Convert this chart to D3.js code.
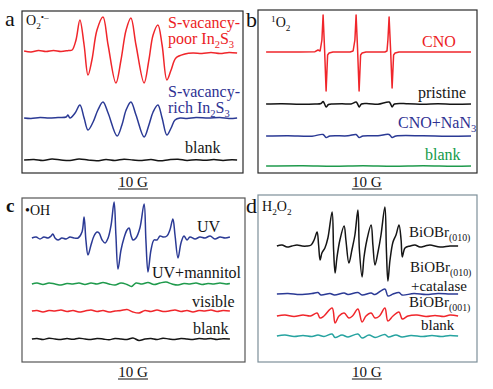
<!DOCTYPE html>
<html>
<head>
<meta charset="utf-8">
<script src="https://cdn.jsdelivr.net/npm/d3@7"></script>
<style>
  body { margin: 0; background: #fff; }
  svg { display: block; }
  text { font-family: "Liberation Serif", "Times New Roman", serif; }
</style>
</head>
<body>
<div id="chart"></div>
<script>
// spectra: [field (G), intensity (a.u.)]
// panel a, O2.- trapping
const aPoor = [[0.7,0],[3,-1],[5.5,0.5],[8,-0.5],[10.5,0.5],[13,-0.5],[15.5,0.5],[16.7,1],[18,11],[19.3,31],[20.7,6],
  [22,-24],[23.3,-9],[25,21],[27,34],[28.7,6],[31.3,-32],[33,-9],[34.7,21],[36.3,33],[38,6],[40.7,-32],[42.3,-9],
  [43.7,16],[45.3,26],[46.7,6],[48.3,-29],[49.7,-19],[51.3,-7],[54.3,-3],[57,-2],[60,-2.5],[63,-1.5],[66,-2.5],[69,-1.5],[71.7,-2]];
const aRich = [[0.7,0],[3,-0.5],[6,0.5],[9,0],[12,0.5],[14.7,1],[15.3,3],[16,0],[17.7,5],[19.3,13],[20.7,0],[22,-12],
  [23.7,-4],[25.3,8],[27,16],[28.7,5],[31.7,-18],[33.3,-7],[34.7,8],[36.3,16],[38,3],[40.7,-19],[42.3,-7],[43.7,6],
  [45.3,13],[46.7,0],[48.3,-17],[49.7,-10],[51,-2],[52.7,0],[55,-0.5],[58,0.5],[62,0],[66,0.5],[69,-0.5],[71.7,0]];
const aBlank = [[0.7,0],[4,0.5],[7,-0.5],[10,1],[13,0],[16,-0.5],[19,1],[22,0],[25,-0.8],[28,0.5],[31,-0.5],[34,0.8],
  [37,0],[40,-0.5],[43,0.5],[46,-0.8],[49,0.3],[52,0.8],[55,-0.5],[58,0.3],[61,-0.3],[64,0.5],[67,-0.5],[70,0.3],[71.7,0]];

// panel b, 1O2 trapping
const bCno = [[2.7,0],[14,0],[19,0.3],[20,2],[20.7,1],[21.3,12],[21.7,37],[22.2,2],[22.7,-39],[23.2,-3],[23.7,-1],[25,0],
  [30.7,0],[31.7,1],[32.3,12],[32.7,37],[33.2,2],[33.7,-39],[34.2,-3],[34.7,-1],[36,0],
  [42.3,0],[43,1],[43.3,12],[43.7,35],[44.2,2],[44.7,-36],[45.2,-3],[45.7,-1],[47,0],[60,0],[71,0]];
const bPristine = [[2.7,0],[8,0.3],[14,-0.3],[19,0],[21,0.5],[21.7,2.5],[22.2,0],[22.7,-3],[23.5,-0.5],[25,0],[28,0.3],
  [31,0],[32.7,2],[33.2,0],[33.7,-3],[34.5,0],[37,0.3],[40,-0.2],[43.7,2],[44.2,0],[44.7,-3],[45.5,0],[50,0.3],
  [55,-0.2],[60,0.3],[65,-0.2],[71,0]];
const bNaN3 = [[2.7,0],[10,0.3],[18,-0.2],[21.7,1.5],[22.7,-1.5],[24,0],[30,0.2],[32.7,1.5],[33.7,-1.5],[35,0],[40,0.2],
  [43.7,1.5],[44.7,-1.5],[46,0],[55,0.2],[63,-0.2],[71,0]];
const bBlank = [[2.7,0],[15,0.3],[25,-0.2],[35,0.3],[45,-0.2],[55,0.3],[65,-0.2],[71,0]];

// panel c, .OH trapping
const cUv = [[3.3,0],[4.7,1],[6,-1],[7.3,1],[8.7,0],[9.7,2],[10.3,4],[11,0],[12,-2],[13.3,0],[14.7,-1],[16,1],[17.3,0],
  [18.7,0],[20,6],[20.7,21],[21.3,-2],[22,-17],[23,-7],[24,2],[25,6],[25.7,5],[26.7,-2],[27.7,-5],[28.7,0],[29.7,13],
  [30.7,36],[31.3,3],[32,-31],[33,-12],[34,0],[35,8],[35.7,10],[36.3,3],[37,-2],[38,0],[39.3,10],[40.7,34],[41.3,-2],
  [42,-34],[43,-12],[44,-2],[45,-2],[46,2],[47,1],[48.3,2],[49.3,8],[50.3,19],[51,3],[52,-20],[53,-5],[54,2],[55,-2],
  [56,1],[57.7,-1],[59.3,1],[61,0],[62.7,2],[64.3,-1],[66,1],[67.7,0],[69.3,1]];
const cMannitol = [[3.3,0],[5,1],[7,-0.5],[9,1],[11,0],[13,-1],[15,0.5],[17,0],[19,1],[21,-0.5],[23,1],[25,0],[27,1.5],
  [29,0],[31,-1],[33,1],[35,-0.5],[36.5,-2.5],[38,1],[40,0],[42,1.5],[44,-0.5],[46,1],[48,2],[50,0],[52,-1],[54,0.5],
  [56,0],[58,1],[60,-0.5],[62,0.5],[64,0],[66,1],[68,0],[69.3,0.5]];
const cVisible = [[3.3,0],[5,0.5],[7,-1],[9,0.5],[11,0],[13,1],[15,-0.5],[17,0.5],[19,-1],[21,0],[23,1],[25,-0.5],
  [27,0.5],[29,-1],[31,0],[33,0.5],[35,1.5],[37,-1],[39,-2],[41,0.5],[43,-0.5],[45,1],[47,-0.5],[49,0],[51,1],
  [53,-0.5],[55,0.5],[57,-1],[59,0.5],[61,0],[63,1],[65,-0.5],[67,0.5],[69.3,0]];
const cBlank = [[3.3,0],[5,0.5],[7,-0.5],[9,0.8],[11,0],[13,-0.5],[15,0.5],[17,-0.3],[19,0.8],[21,0],[23,-0.5],[25,0.5],
  [27,0],[29,-0.8],[31,0.5],[33,0],[35,-0.5],[37,1],[39,-1.5],[41,0],[43,0.5],[45,-0.5],[47,0.8],[49,0],[51,-0.5],
  [53,0.5],[55,0],[57,-0.5],[59,0.5],[61,0],[63,0.5],[65,-0.5],[67,0.3],[69.3,0]];

// panel d, H2O2 detection
const d010 = [[6.3,0],[8,1],[9.7,-1],[11.3,0],[13,1],[14.7,0],[16.3,0],[17.7,1],[18.7,6],[19.7,14],[20.2,1],[20.7,-14],
  [21.3,-7],[22.3,-2],[23.3,8],[24.7,34],[25.2,-4],[25.7,-27],[26.3,-12],[27.3,6],[28.7,20],[29.3,6],[30.3,-17],
  [31.3,-4],[32.3,11],[33.3,36],[33.8,-4],[34.7,-31],[35.3,-12],[36.3,6],[37.7,21],[38.3,1],[39,-19],[40,-6],[41,11],
  [42.3,39],[42.8,-4],[43.3,-35],[44,-14],[45,4],[46,11],[47,21],[47.7,6],[48.1,-11],[49,-2],[50.7,0],[52.3,1],
  [54,-1],[55.7,0],[57.3,1],[60.7,-1],[64,0],[66.7,0]];
const dCatalase = [[6.3,0],[10,0.5],[14,-0.5],[18,0.5],[20,1.5],[21,-1],[24,0.5],[25.5,-1],[28.7,1],[30,-0.5],[33.3,1.5],
  [34.7,-1],[37.7,1],[39,-0.5],[42.3,5],[43.3,-2],[45,0],[47,1.5],[48,-1],[52,0.5],[56,-0.5],[60,0.5],[64,0],[66.7,0]];
const d001 = [[6.3,0],[9,1],[12,-0.5],[15,1],[17.5,0],[19.7,3],[20.7,-2],[22,0],[24.7,8],[25.7,-7],[27,0],[28.7,3],
  [30.3,-2],[31.5,0],[33.3,7],[34.7,-6],[36,0],[37.7,3],[39,-2],[40.5,0],[42.3,8],[43.3,-5],[45,0],[47,4],[48.1,-3],
  [50,0],[53,1],[56,-0.5],[59,0.5],[62,-0.5],[64,1],[66.7,0]];
const dBlank = [[6.3,0],[9,1],[12,-0.5],[15,0.5],[18,-0.5],[20,1],[22,-0.5],[24.7,2],[25.7,-1.5],[28,1],[30,-1],
  [33.3,2],[34.7,-2],[37,1],[39,-1.5],[42.3,1.5],[43.5,-1],[46,1],[48,-1],[51,0.5],[55,-0.5],[58,0.5],[61,-0.5],
  [64,0.5],[66.7,0]];

const scaleBarG = 10;

const RED = '#f0262b', BLUE = '#2b3a95', BLACK = '#151515', GREEN = '#1f9a4c', TEAL = '#26a3a0';
const TRED = '#ec1c24', TBLUE = '#2e3192', TGREEN = '#139a48';
const sharp = d3.curveLinear;
const smooth = d3.curveCatmullRom.alpha(0.5);

const panels = [
  { frame: [22, 11, 243, 173], stroke: '#2a2a2a', letter: ['a', 5, 26, 22, 'normal'],
    title: [[['O'], ['2', 'sub'], ['\u2022\u2013', 'sup']], 26, 25],
    bar: [37, 187], labelSize: 16,
    traces: [[aPoor, 51, RED, smooth], [aRich, 118, BLUE, smooth], [aBlank, 160, BLACK, smooth]],
    labels: [
      [[['S-vacancy-']], 168, 28, TRED], [[['poor In'], ['2', 'sub'], ['S'], ['3', 'sub']], 168, 44, TRED],
      [[['S-vacancy-']], 168, 97, TBLUE], [[['rich In'], ['2', 'sub'], ['S'], ['3', 'sub']], 168, 113, TBLUE],
      [[['blank']], 185, 153, BLACK]] },
  { frame: [258, 10, 477, 173], stroke: '#2a2a2a', letter: ['b', 246, 27, 22, 'normal'],
    title: [[['1', 'sup'], ['O'], ['2', 'sub']], 271, 27],
    bar: [36.3, 187], labelSize: 16,
    traces: [[bCno, 52, RED, sharp], [bPristine, 104, BLACK, smooth], [bNaN3, 136, BLUE, smooth], [bBlank, 166, GREEN, smooth]],
    labels: [
      [[['CNO']], 422, 47, TRED], [[['pristine']], 418, 98, BLACK],
      [[['CNO+NaN'], ['3', 'sub']], 398, 128, TBLUE], [[['blank']], 425, 160, TGREEN]] },
  { frame: [22, 198, 245, 362], stroke: '#555', letter: ['c', 6, 212, 19, 'bold'],
    title: [[['\u2022OH']], 25, 215],
    bar: [37, 377], labelSize: 16,
    traces: [[cUv, 238, BLUE, smooth], [cMannitol, 284, GREEN, smooth], [cVisible, 311, RED, smooth], [cBlank, 339, BLACK, smooth]],
    labels: [
      [[['UV']], 197, 232, BLACK], [[['UV+mannitol']], 152, 278, BLACK],
      [[['visible']], 192, 307, BLACK], [[['blank']], 193, 334, BLACK]] },
  { frame: [258, 195, 477, 362], stroke: '#7d8f99', letter: ['d', 246, 213, 22, 'normal'],
    title: [[['H'], ['2', 'sub'], ['O'], ['2', 'sub']], 262, 211],
    bar: [36.3, 377], labelSize: 15,
    traces: [[d010, 246, BLACK, smooth], [dCatalase, 294, BLUE, smooth], [d001, 316, RED, smooth], [dBlank, 336, TEAL, smooth]],
    labels: [
      [[['BiOBr'], ['(010)', 'sub']], 409, 237, BLACK], [[['BiOBr'], ['(010)', 'sub']], 410, 272, BLACK],
      [[['+catalase']], 411, 291, BLACK], [[['BiOBr'], ['(001)', 'sub']], 409, 307, BLACK],
      [[['blank']], 421, 330, BLACK]] }
];

const svg = d3.select('#chart').append('svg')
    .attr('width', 493)
    .attr('height', 389);

// text with sub/superscript pieces
function richText(g, parts, x, y, size, color) {
  const t = g.append('text').attr('x', x).attr('y', y)
      .attr('font-size', size).attr('fill', color);
  let shift = 0;
  parts.forEach(([s, kind]) => {
    const target = kind === 'sub' ? size * 0.25 : kind === 'sup' ? -size * 0.38 : 0;
    t.append('tspan')
        .attr('dy', target - shift)
        .attr('font-size', kind ? size * 0.66 : size)
        .text(s);
    shift = target;
  });
  return t;
}

panels.forEach(p => {
  const [x0, y0, x1, y1] = p.frame;
  const g = svg.append('g');
  // 3 px per gauss, same as the 10 G bar
  const x = d3.scaleLinear().domain([0, (x1 - x0) / 3]).range([x0, x1]);

  g.append('rect')
      .attr('x', x0).attr('y', y0)
      .attr('width', x1 - x0).attr('height', y1 - y0)
      .attr('fill', 'none').attr('stroke', p.stroke).attr('stroke-width', 1.2);

  p.traces.forEach(([data, base, color, curve]) => {
    const y = d3.scaleLinear().domain([-50, 50]).range([base + 50, base - 50]);
    const line = d3.line().x(d => x(d[0])).y(d => y(d[1])).curve(curve);
    g.append('path').datum(data)
        .attr('d', line)
        .attr('fill', 'none')
        .attr('stroke', color)
        .attr('stroke-width', 1.5)
        .attr('stroke-linejoin', 'round');
  });

  p.labels.forEach(([parts, lx, ly, color]) => richText(g, parts, lx, ly, p.labelSize, color));

  const [lt, lx, ly, ls, lw] = p.letter;
  g.append('text').attr('x', lx).attr('y', ly)
      .attr('font-size', ls).attr('font-weight', lw).attr('fill', '#111').text(lt);

  richText(g, p.title[0], p.title[1], p.title[2], 14, '#111');

  // 10 G scale bar
  const [bc, by] = p.bar;
  g.append('text')
      .attr('x', x(bc)).attr('y', by)
      .attr('text-anchor', 'middle')
      .attr('font-size', 15).attr('fill', '#111')
      .text(scaleBarG + ' G');
  g.append('line')
      .attr('x1', x(bc - scaleBarG / 2)).attr('x2', x(bc + scaleBarG / 2))
      .attr('y1', by + 2).attr('y2', by + 2)
      .attr('stroke', '#111').attr('stroke-width', 1);
});
</script>
</body>
</html>
